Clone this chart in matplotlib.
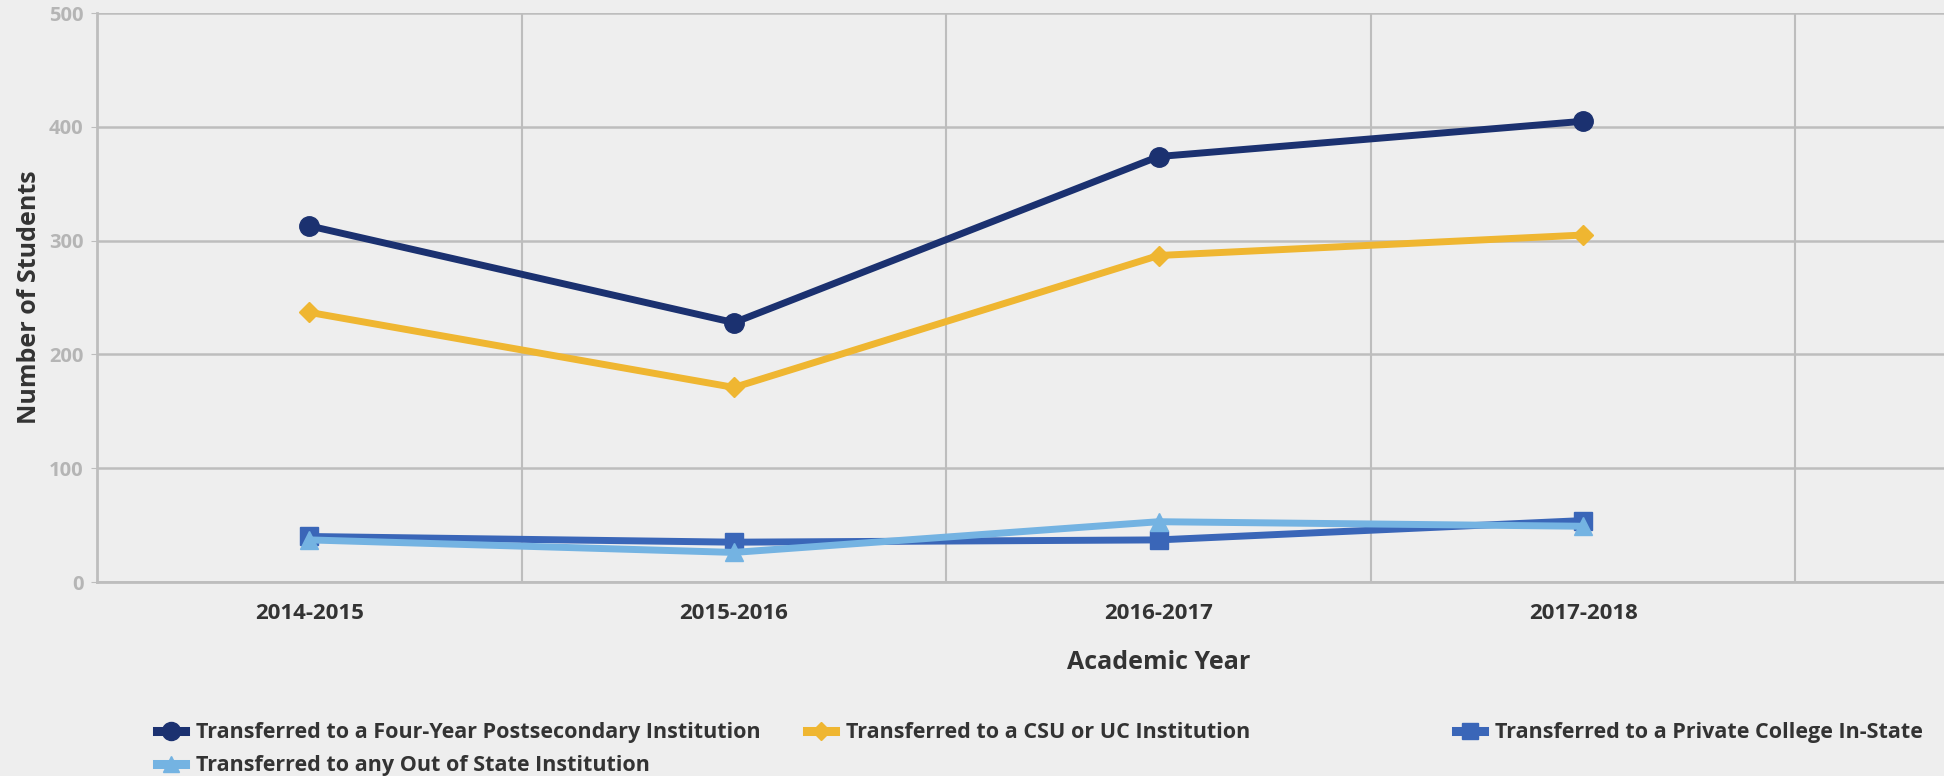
import matplotlib.pyplot as plt
from matplotlib.lines import Line2D

YEARS = ['2014-2015', '2015-2016', '2016-2017', '2017-2018']
FOUR_YEAR = [313, 228, 374, 405]
CSU_UC = [237, 171, 287, 305]
PRIVATE = [40, 35, 37, 54]
OUT_OF_STATE = [37, 26, 53, 49]

LABELS = ['Transferred to a Four-Year Postsecondary Institution',
          'Transferred to a CSU or UC Institution',
          'Transferred to a Private College In-State',
          'Transferred to any Out of State Institution']
COLORS = ['#1b3170', '#efb631', '#3a66b8', '#74b3e2']
MARKERS = ['o', 'D', 's', '^']
SIZES = [14, 10, 13, 13]

BG = '#eeeeee'
GRID = '#bdbdbd'

plt.rcParams['font.family'] = ['Open Sans', 'DejaVu Sans']

fig = plt.figure(figsize=(19.44, 7.76), dpi=100, facecolor=BG)
ax = fig.add_axes([0.05, 0.25, 0.95, 0.733], facecolor=BG)

x = list(range(len(YEARS)))
series = [FOUR_YEAR, CSU_UC, PRIVATE, OUT_OF_STATE]
for vals, c, m, s in zip(series, COLORS, MARKERS, SIZES):
    ax.plot(x, vals, color=c, linewidth=5, marker=m, markersize=s,
            solid_capstyle='round', zorder=3)

xmin, xmax = -0.5, 3.85
ax.set_xlim(xmin, xmax)
ax.set_ylim(0, 500)
ax.set_yticks(range(0, 501, 100))
ax.set_xticks(x)
ax.set_xticklabels(YEARS, fontsize=16, fontweight='bold', color='#333333')
ax.set_xticks([0.5, 1.5, 2.5, 3.5], minor=True)
ax.grid(True, which='minor', axis='x', color=GRID, linewidth=1.5, zorder=0)
ax.grid(True, which='major', axis='y', color=GRID, linewidth=1.8, zorder=0)
ax.tick_params(axis='x', which='both', length=0, pad=15)
ax.tick_params(axis='y', length=4, color=GRID, labelsize=14.5,
               labelcolor='#b5b5b5', pad=6)
for lab in ax.get_yticklabels():
    lab.set_fontweight('bold')

for side in ['top', 'right']:
    ax.spines[side].set_visible(False)
for side in ['left', 'bottom']:
    ax.spines[side].set_color(GRID)
    ax.spines[side].set_linewidth(2)

ax.set_ylabel('Number of Students', fontsize=18, fontweight='bold',
              color='#333333')
ax.yaxis.set_label_coords(-0.03, 0.5)
ax.set_xlabel('Academic Year', fontsize=18, fontweight='bold',
              color='#333333')
ax.xaxis.set_label_coords((2 - xmin) / (xmax - xmin), -0.12)


def handle(i):
    return Line2D([0], [0], color=COLORS[i], linewidth=6.5,
                  marker=MARKERS[i], markersize=SIZES[i] - 1)


legend_cols = [([0, 3], 0.081), ([1], 0.415), ([2], 0.749)]
for idx, xpos in legend_cols:
    leg = fig.legend([handle(i) for i in idx], [LABELS[i] for i in idx],
                     loc='upper left', bbox_to_anchor=(xpos, 0.069),
                     frameon=False, handlelength=1.3, handletextpad=0.5,
                     labelspacing=0.55, borderaxespad=0, borderpad=0,
                     prop={'size': 15.5, 'weight': 'bold'})
    for t in leg.get_texts():
        t.set_color('#333333')

fig.savefig('out.png', dpi=100, facecolor=BG)
